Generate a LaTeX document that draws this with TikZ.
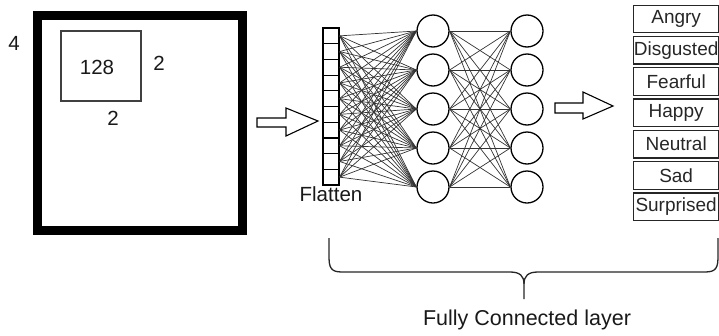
\documentclass[tikz,border=0pt]{standalone}
\usepackage{fontspec}
\setmainfont{Liberation Sans}
\begin{document}
\begin{tikzpicture}[x=1pt,y=-1pt,
  lbl/.style={inner sep=0pt,text=black!90},
  big/.style={font=\fontsize{20.5}{24}\selectfont},
  cls/.style={draw=black!85,line width=1.3pt,minimum width=85pt,minimum height=27.5pt,inner sep=0pt,anchor=north west,font=\fontsize{19}{22}\selectfont,text=black!85},
  neuron/.style={circle,draw=black,line width=1.3pt,minimum size=32pt,inner sep=0pt},
  cell/.style={draw=black,line width=1.2pt,minimum width=16pt,minimum height=15.7pt,inner sep=0pt},
  conn/.style={draw=black!80,line width=0.7pt},
  hollow/.style={draw=black,line width=1.1pt,fill=white,line join=miter}]
\useasboundingbox (0,0) rectangle (719,335);
% input block
\draw[line width=9pt] (37.5,15.5) rectangle (242.5,230.5);
\node[draw=black!75,line width=1.1pt,minimum width=80pt,minimum height=70pt,inner sep=0pt] (win) at (101,66) {};
\node[lbl,big] (n128) at (97,67) {128};
\node[lbl,big] (n2r) at (159,63) {2};
\node[lbl,big] (n2b) at (113,118) {2};
\node[lbl,big] (n4) at (14,43) {4};
% arrow 1
\draw[hollow] (257,118) -- (286,118) -- (286,108) -- (318,121) -- (286,136) -- (286,127) -- (257,127) -- cycle;
% neurons
\foreach \j/\yy in {0/31,1/70,2/109,3/148,4/187} {
  \node[neuron] (a\j) at (433,\yy) {};
  \node[neuron] (b\j) at (527,\yy) {};
}
% flatten column
\foreach \i in {0,...,9} {
  \node[cell] (f\i) at (331,{28+15.7*(\i+0.5)}) {};
}
\node[lbl,big,anchor=north] (flat) at (331,186) {Flatten};
\foreach \i in {0,...,9} {
  \foreach \j in {0,...,4} {
    \draw[conn] (f\i.east) -- (a\j.west);
  }
}
\foreach \i in {0,...,4} {
  \foreach \j in {0,...,4} {
    \draw[conn] (a\i.east) -- (b\j.west);
  }
}
% arrow 2
\draw[hollow] (555,103) -- (583,103) -- (583,92) -- (613,106) -- (583,119) -- (583,113) -- (555,113) -- cycle;
% classes
\foreach \k/\t in {0/Angry,1/Disgusted,2/Fearful,3/Happy,4/Neutral,5/Sad,6/Surprised} {
  \node[cls] (c\k) at (633,{4.5+31.3*\k}) {\t};
}
% brace
\coordinate (bl) at (329,238);
\coordinate (br) at (718,238);
\coordinate (bt) at (524,299);
\draw[black!85,line width=1.3pt,line join=round]
  (bl) -- (329,258) .. controls (329,272) and (335,272) .. (345,272)
  -- (510,272) .. controls (520,272) and (524,276) .. (524,284) -- (bt);
\draw[black!85,line width=1.3pt,line join=round]
  (br) -- (718,258) .. controls (718,272) and (712,272) .. (702,272)
  -- (538,272) .. controls (528,272) and (524,276) .. (524,284);
\node[lbl,font=\fontsize{21.5}{26}\selectfont] (fcl) at (527,320) {Fully Connected layer};
\end{tikzpicture}
\end{document}
